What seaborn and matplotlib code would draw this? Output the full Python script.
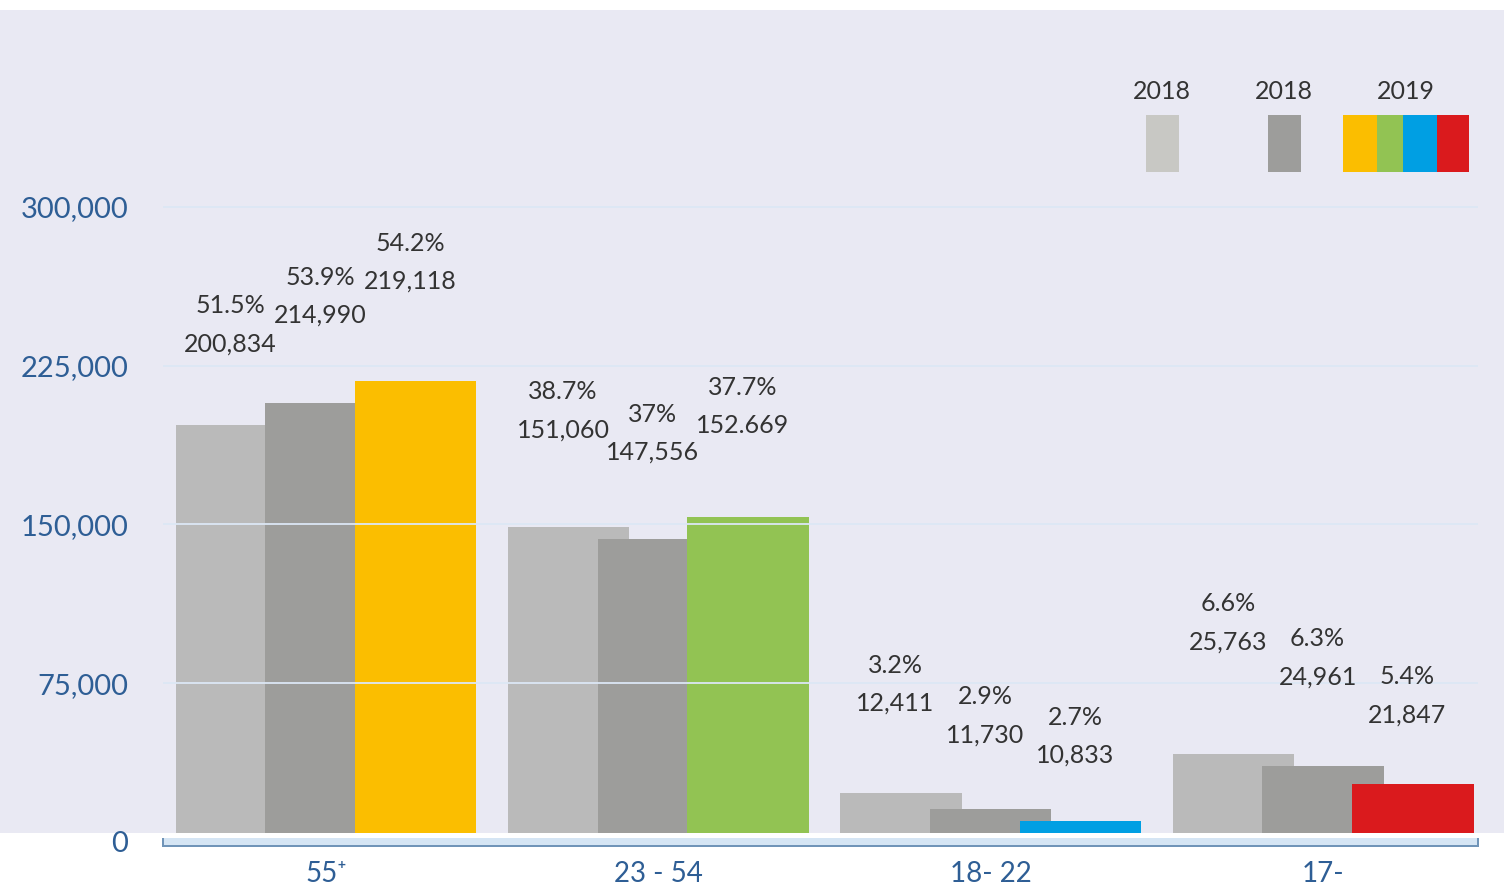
import numpy as np
import pandas as pd
import matplotlib.pyplot as plt
from matplotlib.patches import Rectangle
import seaborn as sns

# age groups on the x axis
groups = ['55⁺', '23 - 54', '18- 22', '17-']

# bar heights as drawn in the picture
height_2018a = [197000, 148900, 23000, 41700]
height_2018b = [207300, 143100, 15600, 35900]
height_2019 = [217500, 153600, 9900, 27500]

# printed labels above the bars
count_2018a = ['200,834', '151,060', '12,411', '25,763']
count_2018b = ['214,990', '147,556', '11,730', '24,961']
count_2019 = ['219,118', '152.669', '10,833', '21,847']
share_2018a = ['51.5%', '38.7%', '3.2%', '6.6%']
share_2018b = ['53.9%', '37%', '2.9%', '6.3%']
share_2019 = ['54.2%', '37.7%', '2.7%', '5.4%']

legend_years = ['2018', '2018', '2019']
yticks = [0, 75000, 150000, 225000, 300000]

# colours
gray_light = '#BABABA'
gray_dark = '#9D9D9B'
colors_2019 = ['#FBBE00', '#92C353', '#009FE3', '#DA1A1D']
blue_txt = '#2E5E95'
dark_txt = '#333333'

sns.set_theme(style='white')
plt.rcParams['font.family'] = ['Lato', 'DejaVu Sans']

W, H = 1504, 891
fig = plt.figure(figsize=(W / 100, H / 100), dpi=100)
fig.patch.set_facecolor('white')


def fig_rect(x0, y0, x1, y1, color, z):
    # rectangle given in pixels from the top-left corner of the figure
    fig.add_artist(Rectangle((x0 / W, (H - y1) / H), (x1 - x0) / W, (y1 - y0) / H,
                             transform=fig.transFigure, color=color, lw=0, zorder=z))


# lavender panel behind the chart
fig_rect(0, 10, W, 833, '#E9E9F3', -1)

ax = fig.add_axes([163 / W, (H - 842) / H, (1478 - 163) / W, 832 / H])
ax.set_facecolor('none')

pos = np.arange(len(groups))
step, width = 0.27, 0.365

sns.barplot(x=pos - step, y=height_2018a, native_scale=True, width=width, color=gray_light,
            saturation=1, errorbar=None, linewidth=0, ax=ax)
sns.barplot(x=pos, y=height_2018b, native_scale=True, width=width, color=gray_dark,
            saturation=1, errorbar=None, linewidth=0, ax=ax)
sns.barplot(x=pos + step, y=height_2019, hue=groups, palette=colors_2019, native_scale=True,
            width=width, dodge=False, legend=False, saturation=1, errorbar=None, linewidth=0, ax=ax)

ax.set_xlim(-0.4905, 3.466)
ax.set_ylim(0, 832 * 472.29)

# value labels (lift = pixels from bar top to the number, hand placed in the original)
lift = [[81, 88, 100], [97, 87, 91], [90, 74, 66], [112, 89, 69]]
heights = [height_2018a, height_2018b, height_2019]
counts = [count_2018a, count_2018b, count_2019]
shares = [share_2018a, share_2018b, share_2019]
for i in range(len(groups)):
    for k in range(3):
        x = pos[i] + (k - 1) * step
        y = heights[k][i]
        ax.annotate(counts[k][i], (x, y), xytext=(-4, lift[i][k] * 0.72), textcoords='offset points',
                    ha='center', va='center', fontsize=18, color=dark_txt)
        ax.annotate(shares[k][i], (x, y), xytext=(-4, (lift[i][k] + 38) * 0.72), textcoords='offset points',
                    ha='center', va='center', fontsize=18, color=dark_txt)

ax.set_yticks(yticks)
ax.set_yticklabels([f'{v:,}' for v in yticks])
ax.yaxis.grid(True, color='#DCE7F5', lw=1.3)
ax.xaxis.grid(False)
ax.set_axisbelow(False)
ax.set_xticks(pos)
ax.set_xticklabels(groups)
ax.tick_params(axis='y', length=0, pad=25, labelsize=21, labelcolor=blue_txt)
ax.tick_params(axis='x', length=0, pad=14, labelsize=20, labelcolor=blue_txt)
for s in ax.spines.values():
    s.set_visible(False)
ax.set_xlabel('')
ax.set_ylabel('')

# bottom axis band
fig_rect(150, 833, W, 838.3, 'white', 5)
fig_rect(163, 838.3, 1478, 845, '#D5E5F4', 5)
fig_rect(163, 845, 1478, 847, '#7094B8', 5)
fig_rect(162, 838.3, 164, 847, '#7094B8', 5)
fig_rect(1477, 838.3, 1479, 847, '#7094B8', 5)

# legend in the top right
fig_rect(1146, 115, 1179, 171.7, '#C8C8C4', 5)
fig_rect(1268, 115, 1301, 171.7, gray_dark, 5)
edges = [1343, 1376.7, 1403.3, 1436.7, 1469.3]
for j, c in enumerate(colors_2019):
    fig_rect(edges[j], 115, edges[j + 1], 171.7, c, 5)
for xc, year in zip([1162, 1284, 1406], legend_years):
    fig.text(xc / W, (H - 91.5) / H, year, ha='center', va='center', fontsize=18, color=dark_txt)

fig.savefig('out.png', dpi=100)
